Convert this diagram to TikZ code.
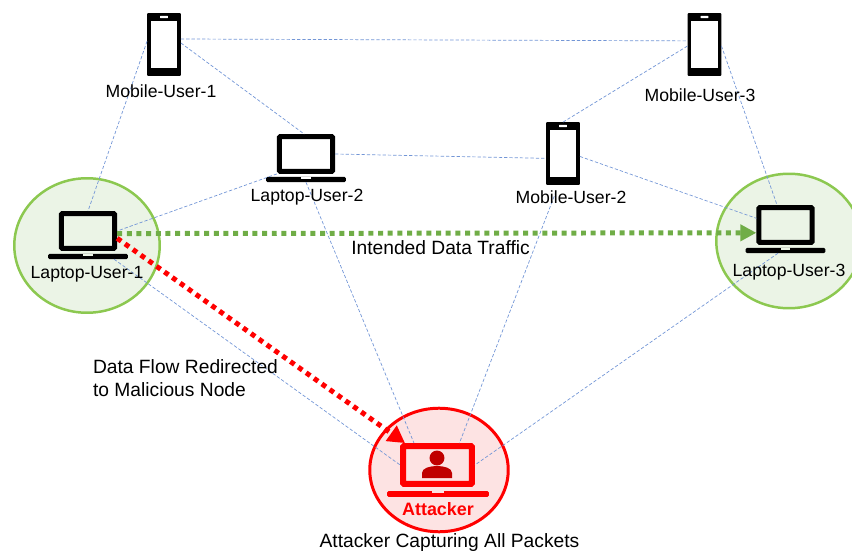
\documentclass[tikz,border=0pt]{standalone}
\usepackage{fontspec}
\setmainfont{Liberation Sans}
\usetikzlibrary{arrows.meta, shapes.geometric}

\definecolor{zonegreen}{HTML}{8CC850}
\definecolor{zonefill}{HTML}{EBF4E6}
\definecolor{attfill}{HTML}{FDE3E3}
\definecolor{linkblue}{HTML}{7396D6}
\definecolor{flowgreen}{HTML}{70AD47}
\definecolor{attdark}{HTML}{C00000}

\tikzset{
	zone/.style={ellipse, draw=zonegreen, fill=zonefill, line width=2.5pt, inner sep=0pt, outer sep=0pt, minimum width=146, minimum height=135},
	phone/.style={rectangle, fill=black, rounded corners=1pt, inner sep=0pt, outer sep=0pt, minimum width=34, minimum height=63},
	phonescreen/.style={rectangle, fill=white, inner sep=0pt, outer sep=0pt, minimum width=27, minimum height=47},
	speaker/.style={rectangle, fill=white, rounded corners=0.7pt, inner sep=0pt, outer sep=0pt, minimum width=8, minimum height=2.5},
	screen/.style={rectangle, draw=black, rounded corners=1pt, line width=5pt, inner sep=0pt, outer sep=2.5pt, minimum width=53.5, minimum height=35},
	base/.style={rectangle, fill=black, rounded corners=1.5pt, inner sep=0pt, outer sep=0pt, minimum width=80, minimum height=5.5},
	notch/.style={rectangle, fill=white, inner sep=0pt, outer sep=0pt, minimum width=10, minimum height=2},
	link/.style={draw=linkblue, line width=0.7pt, dash pattern=on 3.3pt off 2pt},
	flow/.style={line width=5pt, dash pattern=on 5pt off 4.7pt},
	lbl/.style={font=\fontsize{17.7}{23}\selectfont, inner sep=0pt, outer sep=0pt, text=black},
	caption/.style={lbl, font=\fontsize{19.3}{23}\selectfont}
}

\begin{document}
\begin{tikzpicture}[x=1bp, y=-1bp]
	\clip (0,0) rectangle (852,553);
	
	%zones
	\node[zone] (zone1) at (87,245.5) {};
	\node[zone] (zone3) at (789,241) {};
	\node[zone, draw=red, fill=attfill, line width=3pt, minimum width=139, minimum height=124] (zoneatt) at (439,470) {};
	
	%phones
	\node[phone] (mu1) at (164,44.5) {};
	\node[phonescreen] (mu1screen) at (164,44.5) {};
	\node[speaker] (mu1speaker) at (164,17) {};
	%
	\node[phone] (mu2) at (563,153.5) {};
	\node[phonescreen] (mu2screen) at (563,153.5) {};
	\node[speaker] (mu2speaker) at (563,126) {};
	%
	\node[phone] (mu3) at (704.5,44.5) {};
	\node[phonescreen] (mu3screen) at (704.5,44.5) {};
	\node[speaker] (mu3speaker) at (704.5,17) {};
	
	%laptops
	\node[screen] (lu1) at (88,231) {};
	\node[base] (lu1base) at (88,256.5) {};
	\node[notch, fill=zonefill] (lu1notch) at (88,255) {};
	%
	\node[screen] (lu2) at (306,154) {};
	\node[base] (lu2base) at (306,179.5) {};
	\node[notch] (lu2notch) at (306,178) {};
	%
	\node[screen] (lu3) at (785.5,225) {};
	\node[base] (lu3base) at (785.5,250.5) {};
	\node[notch, fill=zonefill] (lu3notch) at (785.5,249) {};
	%
	\node[screen, draw=red, line width=6pt, outer sep=3pt, minimum width=69, minimum height=38] (att) at (437.5,465) {};
	\node[base, fill=red, minimum width=102, minimum height=6] (attbase) at (438,494) {};
	\node[notch, fill=attfill, minimum width=13] (attnotch) at (438,492) {};
	\node[circle, fill=attdark, inner sep=0pt, minimum size=15] (atthead) at (437,458) {};
	\fill[attdark] (422,478)--(422,473) .. controls (422,468) and (430,466) .. (437,466) .. controls (444,466) and (452,468) .. (452,473)--(452,478)--cycle;
	
	%links
	\draw[link] (mu1.169)--(lu1.north);
	\draw[link] (mu1.18)--(mu3.168);
	\draw[link] (mu1.5)--(lu2.95);
	\draw[link] (lu2.south west)--(lu1.east);
	\draw[link] (lu2.east)--(mu2.196);
	\draw[link] (lu2base.south)--(att.137);
	\draw[link, shorten <=7pt] (mu2.262)--(att.45);
	\draw[link] (mu2.north)--(mu3.185);
	\draw[link] (mu2.350)--(lu3.167);
	\draw[link] (mu3.355)--(lu3.113);
	\draw[link] (lu3base.200)--(att.east);
	\draw[link] (lu1base.354)--(att.west);
	
	%data flows
	\draw[flow, draw=flowgreen, -{Triangle[length=16pt,width=16pt]}] (lu1.355)--(lu3.195);
	\draw[flow, draw=red, -{Triangle[length=17pt,width=18pt]}] (lu1.346)--(att.146);
	
	%labels
	\node[lbl] (mu1label) at (161,91) {Mobile-User-1};
	\node[lbl] (lu2label) at (307,197) {Laptop-User-2};
	\node[lbl] (mu2label) at (571,197) {Mobile-User-2};
	\node[lbl] (mu3label) at (700,95) {Mobile-User-3};
	\node[lbl] (lu1label) at (87,274) {Laptop-User-1};
	\node[lbl] (lu3label) at (789,272) {Laptop-User-3};
	\node[caption] (intended) at (440.5,248) {Intended Data Traffic};
	\node[caption, align=left] (redirected) at (185.5,378) {Data Flow Redirected\\to Malicious Node};
	\node[lbl, text=red, font=\fontsize{18}{23}\selectfont\bfseries] (attlabel) at (438,509) {Attacker};
	\node[caption] (capturing) at (449.5,543) {Attacker Capturing All Packets};
\end{tikzpicture}
\end{document}
